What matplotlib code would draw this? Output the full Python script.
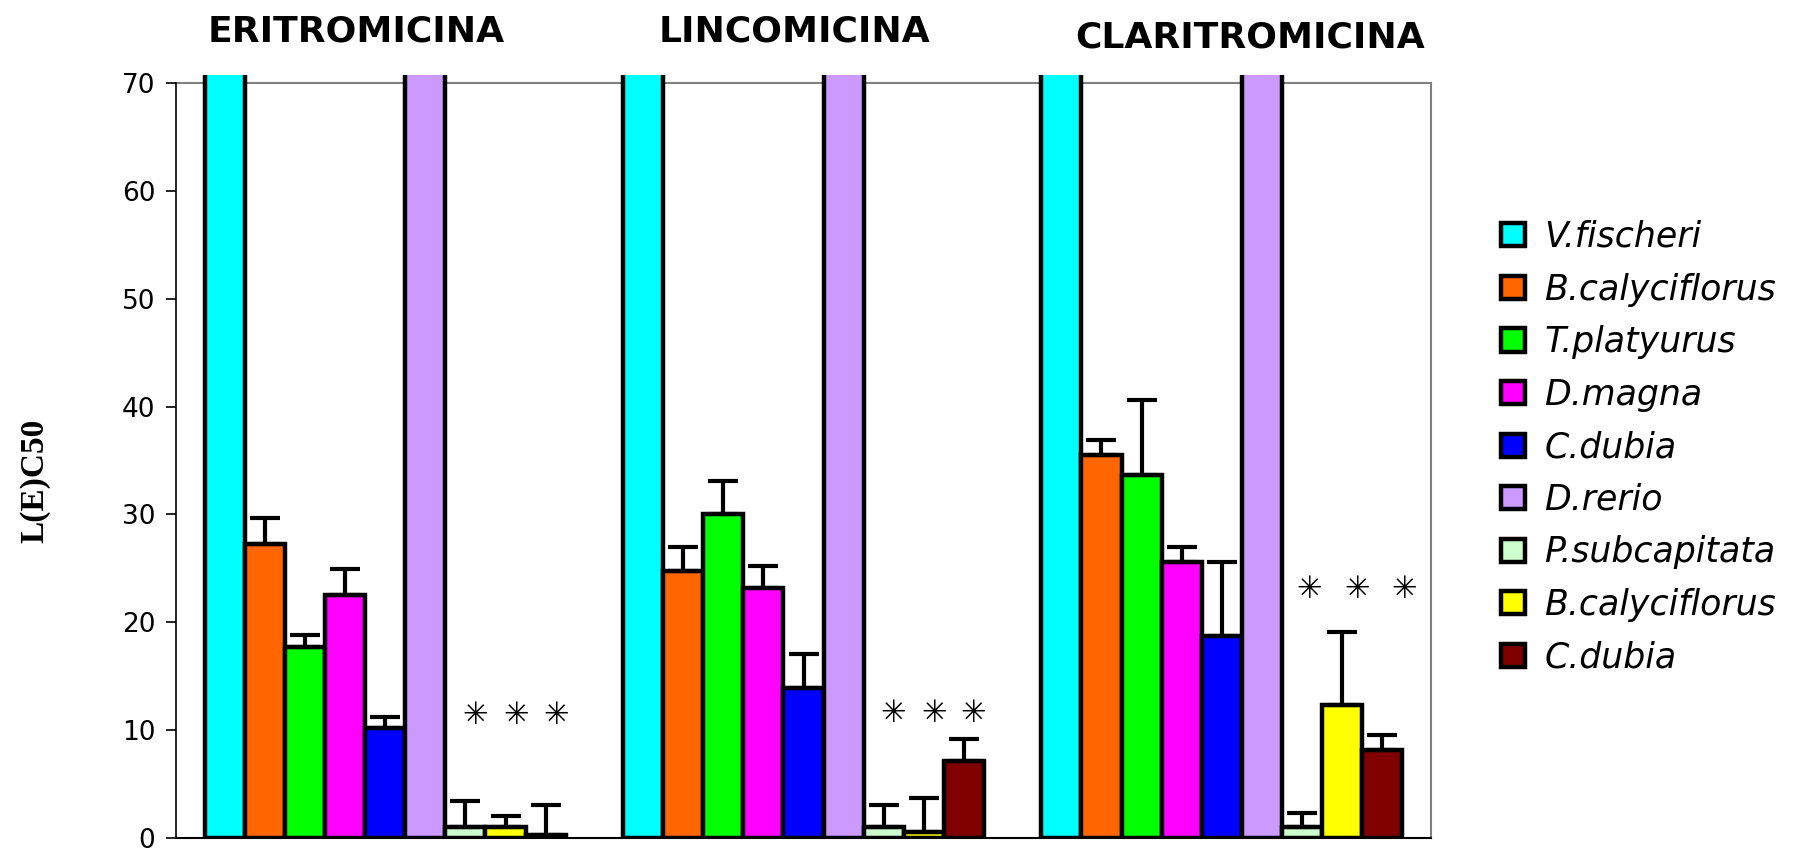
import numpy as np
import matplotlib.pyplot as plt

# antibiotic groups and test species
drugs = ["ERITROMICINA", "LINCOMICINA", "CLARITROMICINA"]
species = ["V.fischeri", "B.calyciflorus", "T.platyurus", "D.magna", "C.dubia",
           "D.rerio", "P.subcapitata", "B.calyciflorus", "C.dubia"]
colors = ["#00FFFF", "#FF6600", "#00FF00", "#FF00FF", "#0000FF",
          "#CC99FF", "#CCFFCC", "#FFFF00", "#800000"]

# L(E)C50 per species, one value per antibiotic (V.fischeri and D.rerio are off scale)
v_fischeri = [100, 100, 100]
b_caly = [27.3, 24.8, 35.5]
t_platy = [17.7, 30.0, 33.7]
d_magna = [22.5, 23.2, 25.6]
c_dubia = [10.2, 13.9, 18.75]
d_rerio = [100, 100, 100]
p_subcap = [1.0, 1.0, 1.05]
b_caly_chronic = [1.0, 0.55, 12.3]
c_dubia_chronic = [0.3, 7.15, 8.15]

err_v_fischeri = [0, 0, 0]
err_b_caly = [2.4, 2.2, 1.4]
err_t_platy = [1.1, 3.1, 6.9]
err_d_magna = [2.4, 2.0, 1.4]
err_c_dubia = [1.0, 3.2, 6.8]
err_d_rerio = [0, 0, 0]
err_p_subcap = [2.4, 2.1, 1.3]
err_b_caly_chronic = [1.0, 3.2, 6.8]
err_c_dubia_chronic = [2.8, 2.0, 1.4]

values = [v_fischeri, b_caly, t_platy, d_magna, c_dubia, d_rerio,
          p_subcap, b_caly_chronic, c_dubia_chronic]
errors = [err_v_fischeri, err_b_caly, err_t_platy, err_d_magna, err_c_dubia,
          err_d_rerio, err_p_subcap, err_b_caly_chronic, err_c_dubia_chronic]

# asterisk height per antibiotic (marks the chronic tests)
star_y = [11.4, 11.5, 23.0]

fig = plt.figure(figsize=(18.13, 8.51), dpi=100)
ax = fig.add_axes([176 / 1813, 13 / 851, 1255 / 1813, 763 / 851])

x = np.arange(len(drugs)) + 0.5
w = 0.0959
n = len(species)
handles = []
for i in range(n):
    pos = x + (i - (n - 1) / 2) * w
    b = ax.bar(pos, values[i], width=w, color=colors[i], edgecolor="black",
               linewidth=3.2, label=species[i], zorder=2)
    handles.append(b)
    err = np.array(errors[i])
    if err.any():
        ax.errorbar(pos, values[i], yerr=[np.zeros_like(err), err], fmt="none",
                    ecolor="black", elinewidth=3, capsize=10.5, capthick=3,
                    zorder=3)

# asterisks over the last three bars of each group
star_shift = [[0.024, 0.026, 0.024], [0.022, 0.024, 0.022], [0.017, 0.036, 0.053]]
for g in range(len(drugs)):
    for k, i in enumerate(range(6, 9)):
        px = x[g] + (i - (n - 1) / 2) * w + star_shift[g][k]
        ax.text(px, star_y[g], "\u2733", ha="center", va="center",
                fontsize=22, color="black", zorder=4)

ax.set_xlim(0, 3)
ax.set_ylim(0, 70.74)
ax.set_yticks(np.arange(0, 71, 10))
ax.set_xticks([])
ax.tick_params(axis="y", length=7, width=1.2, pad=8, labelsize=19)

ax.spines["top"].set_visible(False)
ax.spines["left"].set_bounds(0, 70)
ax.spines["left"].set_linewidth(1.2)
ax.spines["bottom"].set_linewidth(1.5)
ax.spines["right"].set_bounds(0, 70)
ax.spines["right"].set_color("#808080")
ax.spines["right"].set_linewidth(1.5)
ax.plot([0, 3], [70, 70], color="#808080", linewidth=1.5, clip_on=False, zorder=1)

# group titles
title_pos = [(356, 31), (794, 31), (1250, 37)]
for name, (px, py) in zip(drugs, title_pos):
    fig.text(px / 1813, 1 - py / 851, name, ha="center", va="center",
             fontsize=26, fontweight="bold")

fig.text(35 / 1813, 1 - 481 / 851, "L(E)C50", rotation=90, ha="center",
         va="center", fontsize=24, fontweight="bold", family="Liberation Serif")

fig.legend(handles=handles, labels=species, loc="upper left",
           bbox_to_anchor=(1501 / 1813, 1 - 220 / 851), frameon=False,
           borderpad=0, borderaxespad=0, handlelength=0.7, handleheight=0.65,
           handletextpad=0.55, labelspacing=0.535,
           prop={"size": 25, "style": "italic"})

fig.savefig("out.png", dpi=100)
